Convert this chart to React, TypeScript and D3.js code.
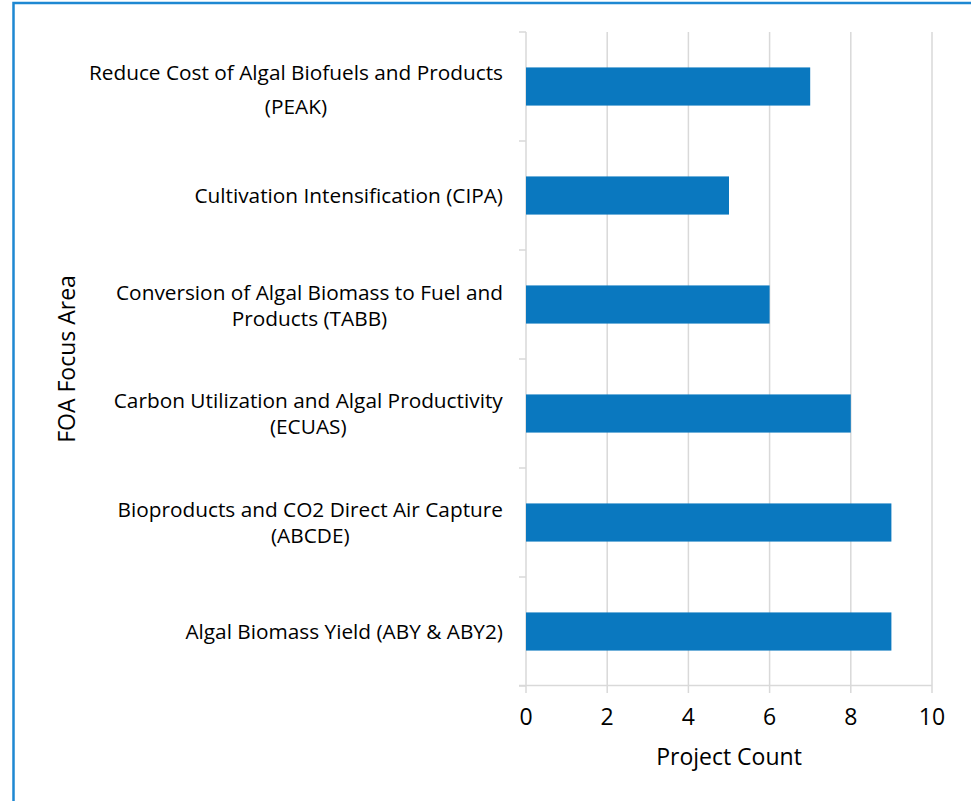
import { useEffect, useRef } from 'react';
import * as d3 from 'd3';

// FOA focus areas, top to bottom as drawn
const focusAreas: string[][] = [
  ['Reduce Cost of Algal Biofuels and Products', '(PEAK)'],
  ['Cultivation Intensification (CIPA)'],
  ['Conversion of Algal Biomass to Fuel and', 'Products (TABB)'],
  ['Carbon Utilization and Algal Productivity', '(ECUAS)'],
  ['Bioproducts and CO2 Direct Air Capture', '(ABCDE)'],
  ['Algal Biomass Yield (ABY & ABY2)'],
];
const projectCounts = [7, 5, 6, 8, 9, 9];
const xTicks = [0, 2, 4, 6, 8, 10];

// label line spacing per category (the top label sits a bit looser)
const lineGap = [34, 26, 26, 26, 26, 26];
const lineShift = [3.5, 0, 1, 0, 0, 0];

const WIDTH = 971;
const HEIGHT = 801;
const FONT = '"Open Sans", sans-serif';
const FONT_SIZE = 20.8;
const TITLE_SIZE = 23;
const BAR_COLOR = '#0a78bf';
const GRID_COLOR = '#d9d9d9';

const App = () => {
  const svgRef = useRef<SVGSVGElement>(null);

  useEffect(() => {
    const svg = d3.select(svgRef.current);
    svg.selectAll('*').remove();

    const plot = { left: 526, right: 932, top: 32, bottom: 686 };

    const x = d3.scaleLinear().domain([0, 10]).range([plot.left, plot.right]);
    const y = d3.scaleBand<number>()
      .domain(d3.range(focusAreas.length))
      .range([plot.top, plot.bottom])
      .paddingInner(0.65)
      .paddingOuter(0.325);
    const band = d3.scaleBand<number>()
      .domain(d3.range(focusAreas.length))
      .range([plot.top, plot.bottom]);

    // frame (only top and left edges are inside the picture)
    svg.append('path')
      .attr('d', `M13.5,${HEIGHT + 5}V3H${WIDTH + 5}`)
      .attr('fill', 'none')
      .attr('stroke', '#1e88d2')
      .attr('stroke-width', 2.5);

    // vertical gridlines
    svg.append('g')
      .selectAll('line')
      .data(xTicks.filter(d => d > 0))
      .join('line')
      .attr('x1', d => x(d))
      .attr('x2', d => x(d))
      .attr('y1', plot.top)
      .attr('y2', plot.bottom)
      .attr('stroke', GRID_COLOR)
      .attr('stroke-width', 1.5);

    // category axis with tick marks between categories
    const yAxis = svg.append('g');
    yAxis.append('line')
      .attr('x1', plot.left).attr('x2', plot.left)
      .attr('y1', plot.top).attr('y2', plot.bottom)
      .attr('stroke', GRID_COLOR).attr('stroke-width', 1.5);
    yAxis.selectAll('line.tick')
      .data(d3.range(focusAreas.length + 1))
      .join('line')
      .attr('class', 'tick')
      .attr('x1', plot.left - 7)
      .attr('x2', plot.left)
      .attr('y1', d => plot.top + d * band.bandwidth())
      .attr('y2', d => plot.top + d * band.bandwidth())
      .attr('stroke', GRID_COLOR)
      .attr('stroke-width', 1.5);

    // value axis
    const xAxis = svg.append('g');
    xAxis.append('line')
      .attr('x1', plot.left - 7).attr('x2', plot.right)
      .attr('y1', plot.bottom - 0.5).attr('y2', plot.bottom - 0.5)
      .attr('stroke', GRID_COLOR).attr('stroke-width', 1.5);
    xAxis.selectAll('line.tick')
      .data(xTicks)
      .join('line')
      .attr('class', 'tick')
      .attr('x1', d => x(d)).attr('x2', d => x(d))
      .attr('y1', plot.bottom).attr('y2', plot.bottom + 7)
      .attr('stroke', GRID_COLOR).attr('stroke-width', 1.5);
    xAxis.selectAll('text')
      .data(xTicks)
      .join('text')
      .attr('x', d => x(d))
      .attr('y', 717)
      .attr('dy', '0.35em')
      .attr('text-anchor', 'middle')
      .attr('font-family', FONT)
      .attr('font-size', TITLE_SIZE)
      .attr('fill', '#000')
      .text(d => d);

    // bars
    svg.append('g')
      .selectAll('rect')
      .data(projectCounts)
      .join('rect')
      .attr('x', x(0))
      .attr('y', (_, i) => y(i) as number)
      .attr('width', d => x(d) - x(0))
      .attr('height', y.bandwidth())
      .attr('fill', BAR_COLOR);

    // category labels, lines centred on each other, right edge near the axis
    const labels = svg.append('g');
    focusAreas.forEach((lines, i) => {
      const cy = (band(i) as number) + band.bandwidth() / 2 + lineShift[i];
      const t = labels.append('text')
        .attr('text-anchor', 'middle')
        .attr('font-family', FONT)
        .attr('font-size', FONT_SIZE)
        .attr('fill', '#000');
      lines.forEach((line, j) => {
        t.append('tspan')
          .attr('x', 0)
          .attr('y', cy + (j - (lines.length - 1) / 2) * lineGap[i])
          .attr('dy', '0.35em')
          .text(line);
      });
      const w = (t.node() as SVGTextElement).getBBox().width;
      t.attr('transform', `translate(${503 - w / 2},0)`);
    });

    // axis titles
    svg.append('text')
      .attr('x', (plot.left + plot.right) / 2)
      .attr('y', 757)
      .attr('dy', '0.35em')
      .attr('text-anchor', 'middle')
      .attr('font-family', FONT)
      .attr('font-size', TITLE_SIZE)
      .text('Project Count');

    svg.append('text')
      .attr('transform', `translate(67,${(plot.top + plot.bottom) / 2}) rotate(-90)`)
      .attr('dy', '0.35em')
      .attr('text-anchor', 'middle')
      .attr('font-family', FONT)
      .attr('font-size', TITLE_SIZE)
      .text('FOA Focus Area');
  }, []);

  return (
    <svg
      ref={svgRef}
      width={WIDTH}
      height={HEIGHT}
      style={{ position: 'absolute', left: 0, top: 0, background: '#fff' }}
    ></svg>
  );
};

export default App;
